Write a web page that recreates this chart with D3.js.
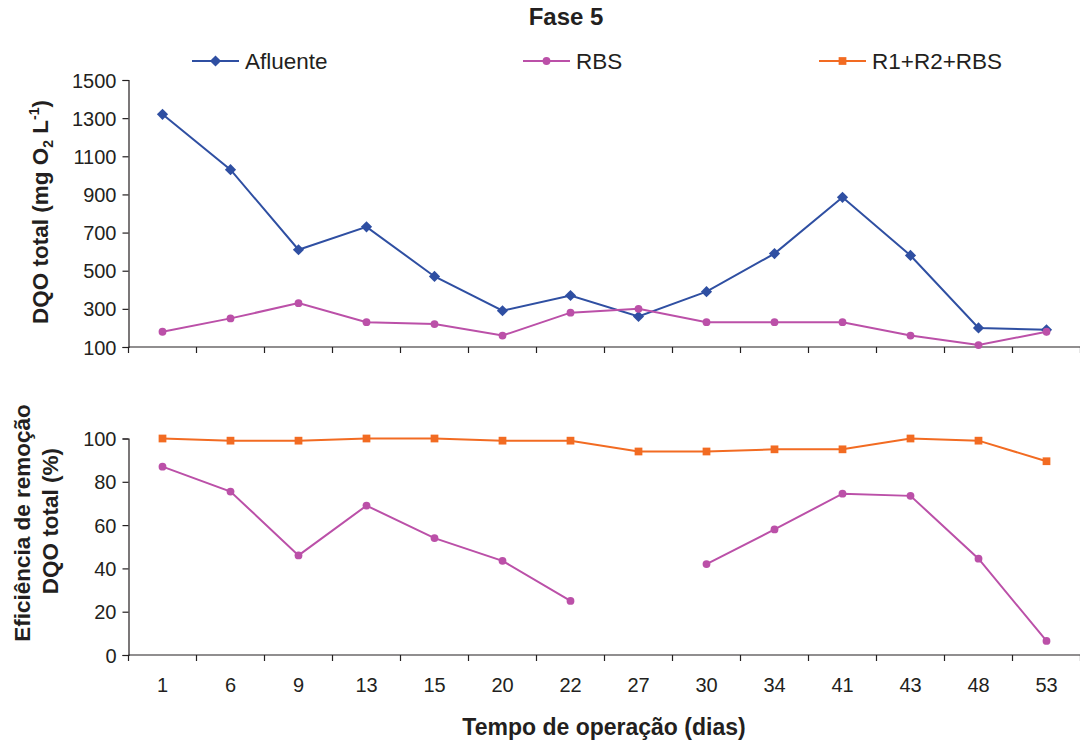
<!DOCTYPE html>
<html>
<head>
<meta charset="utf-8">
<script src="https://cdn.jsdelivr.net/npm/d3@7"></script>
<style>
  html, body { margin: 0; padding: 0; background: #fff; overflow: hidden; }
  svg text { font-family: "Liberation Sans", Arial, sans-serif; fill: #231f20; }
</style>
</head>
<body>
<svg id="chart" width="1080" height="742"></svg>
<script>
// Operation days (categorical x axis)
const days = ["1", "6", "9", "13", "15", "20", "22", "27", "30", "34", "41", "43", "48", "53"];

// Total COD (mg O2 L-1)
const afluente = [1320, 1030, 610, 730, 470, 290, 370, 260, 390, 590, 885, 580, 200, 190];
const rbs      = [180, 250, 330, 230, 220, 160, 280, 300, 230, 230, 230, 160, 110, 180];

// Removal efficiency (%)
const efRbs    = [87, 75.5, 46, 69, 54, 43.5, 25, null, 42, 58, 74.5, 73.5, 44.5, 6.5];
const efTotal  = [100, 99, 99, 100, 100, 99, 99, 94, 94, 95, 95, 100, 99, 89.5];

const codTicks = [100, 300, 500, 700, 900, 1100, 1300, 1500];
const effTicks = [0, 20, 40, 60, 80, 100];

const colors = { afluente: "#2f4fa2", rbs: "#bb50a8", total: "#f26b22" };

const svg = d3.select("#chart");
const left = 128.5, right = 1080.5;

const x = d3.scaleBand().domain(days).range([left, right]).padding(0);
const cx = d => x(d) + x.bandwidth() / 2;

const yTop = d3.scaleLinear().domain([100, 1500]).range([347, 80]);
const yBot = d3.scaleLinear().domain([0, 100]).range([655, 438.5]);

const axisColor = "#231f20";

function drawAxes(y, ticks, baseY, showLabels) {
  const g = svg.append("g");
  // y axis
  const ya = g.append("g").attr("transform", `translate(${left},0)`)
    .call(d3.axisLeft(y).tickValues(ticks).tickSize(6).tickPadding(6).tickFormat(d3.format("d")));
  ya.select(".domain").attr("stroke", axisColor).attr("stroke-width", 1.2);
  ya.selectAll(".tick line").attr("stroke", axisColor).attr("stroke-width", 1.2);
  ya.selectAll("text").style("font-size", "20px").attr("dy", "0.35em");
  // x axis: ticks between categories
  const xa = g.append("g").attr("transform", `translate(0,${baseY})`);
  xa.append("line").attr("x1", left).attr("x2", right).attr("y1", 0).attr("y2", 0)
    .attr("stroke", axisColor).attr("stroke-width", 1.2);
  const bounds = days.map(d => x(d)).concat([right]);
  xa.selectAll("line.t").data(bounds).enter().append("line").attr("class", "t")
    .attr("x1", d => d).attr("x2", d => d).attr("y1", 0).attr("y2", 6)
    .attr("stroke", axisColor).attr("stroke-width", 1.2);
  if (showLabels) {
    xa.selectAll("text").data(days).enter().append("text")
      .attr("x", d => cx(d)).attr("y", 37).attr("text-anchor", "middle")
      .style("font-size", "20px").text(d => d);
  }
}

drawAxes(yTop, codTicks, 347, false);
drawAxes(yBot, effTicks, 655, true);

function symbolFor(shape) {
  return d3.symbol().type(shape === "diamond" ? d3.symbolDiamond2 :
                          shape === "square" ? d3.symbolSquare : d3.symbolCircle)
    .size(shape === "diamond" ? 80 : shape === "square" ? 60 : 48);
}

function series(values, y, color, shape) {
  const pts = days.map((d, i) => ({ d, v: values[i] }));
  const line = d3.line().defined(p => p.v != null).x(p => cx(p.d)).y(p => y(p.v));
  svg.append("path").datum(pts).attr("d", line).attr("fill", "none")
    .attr("stroke", color).attr("stroke-width", 2);
  const sym = symbolFor(shape);
  svg.append("g").selectAll("path").data(pts.filter(p => p.v != null)).enter().append("path")
    .attr("d", sym).attr("fill", color)
    .attr("transform", p => `translate(${cx(p.d)},${y(p.v)})`);
}

series(afluente, yTop, colors.afluente, "diamond");
series(rbs, yTop, colors.rbs, "circle");
series(efTotal, yBot, colors.total, "square");
series(efRbs, yBot, colors.rbs, "circle");

// Title
svg.append("text").attr("x", 566).attr("y", 25).attr("text-anchor", "middle")
  .style("font-size", "24px").style("font-weight", "bold").text("Fase 5");

// Legend
const legend = [
  { name: "Afluente", color: colors.afluente, shape: "diamond", x: 192 },
  { name: "RBS", color: colors.rbs, shape: "circle", x: 523 },
  { name: "R1+R2+RBS", color: colors.total, shape: "square", x: 819 }
];
legend.forEach(l => {
  const g = svg.append("g").attr("transform", `translate(${l.x},61)`);
  g.append("line").attr("x1", 0).attr("x2", 47).attr("stroke", l.color).attr("stroke-width", 2);
  g.append("path").attr("d", symbolFor(l.shape)).attr("fill", l.color).attr("transform", "translate(23.5,0)");
  g.append("text").attr("x", 53).attr("y", 8).style("font-size", "22.5px").text(l.name);
});

// Axis titles
const yt = svg.append("text").attr("transform", "translate(48,212) rotate(-90)")
  .attr("text-anchor", "middle").style("font-size", "22.5px").style("font-weight", "bold");
yt.append("tspan").text("DQO total (mg O");
yt.append("tspan").attr("dy", 5).style("font-size", "14px").text("2");
yt.append("tspan").attr("dy", -5).text(" L");
yt.append("tspan").attr("dy", -9).style("font-size", "14px").text("-1");
yt.append("tspan").attr("dy", 9).text(")");

svg.append("text").attr("transform", "translate(30,523) rotate(-90)")
  .attr("text-anchor", "middle").style("font-size", "22.5px").style("font-weight", "bold")
  .text("Eficiência de remoção");
svg.append("text").attr("transform", "translate(58,521) rotate(-90)")
  .attr("text-anchor", "middle").style("font-size", "22.5px").style("font-weight", "bold")
  .text("DQO total (%)");

svg.append("text").attr("x", 604).attr("y", 735).attr("text-anchor", "middle")
  .style("font-size", "23px").style("font-weight", "bold").text("Tempo de operação (dias)");
</script>
</body>
</html>
